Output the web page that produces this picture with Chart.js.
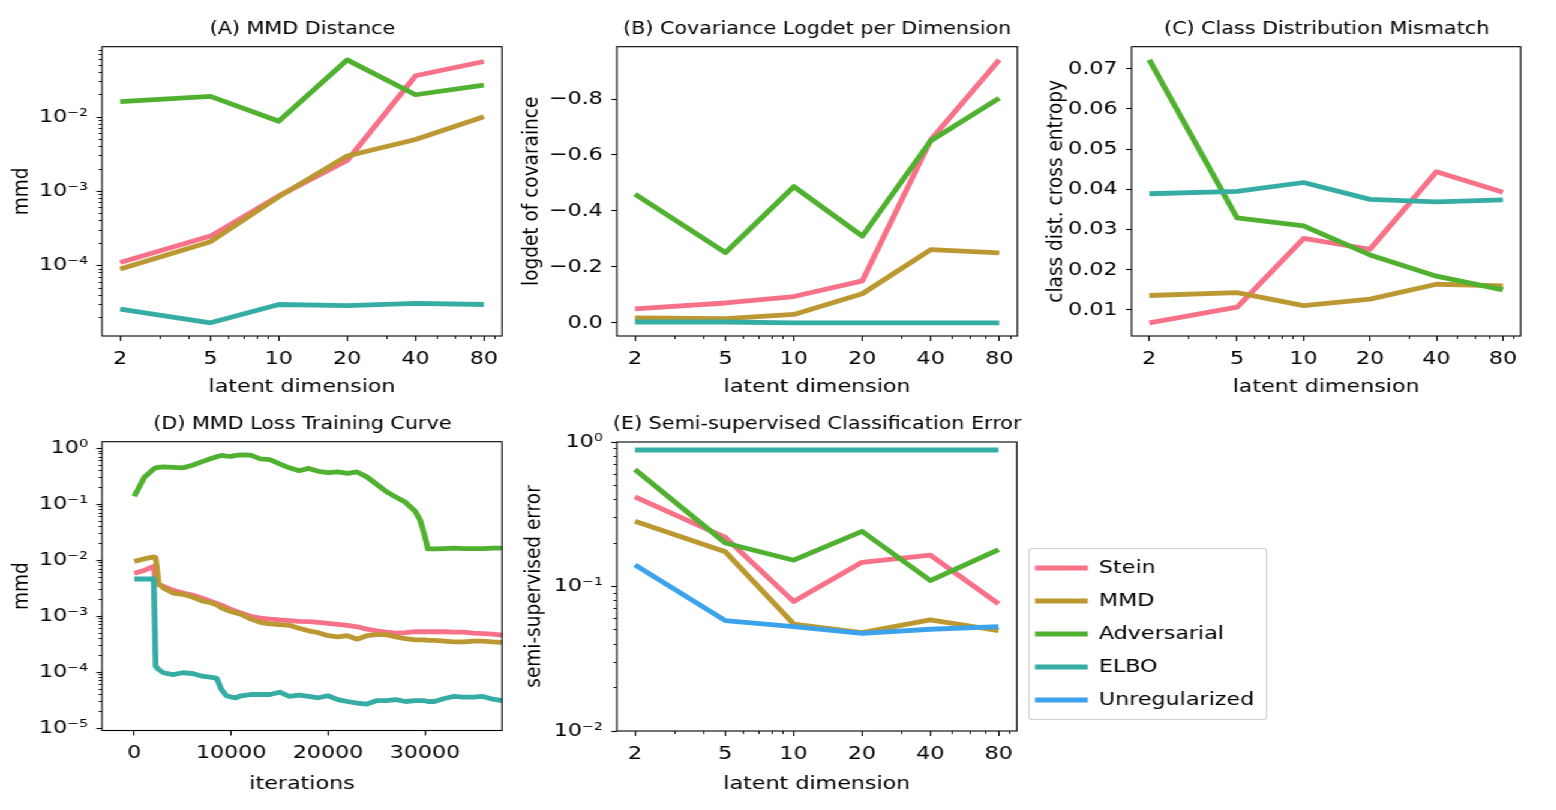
<!DOCTYPE html>
<html><head><meta charset="utf-8">
<script src="https://cdn.jsdelivr.net/npm/chart.js@4.4.1/dist/chart.umd.min.js"></script>
<style>
html,body{margin:0;padding:0;background:#fff;overflow:hidden;width:1556px;height:810px}
#fig{position:absolute;left:0;top:0;width:1297px;height:810px;transform:scaleX(1.2);transform-origin:0 0}
#fig canvas{position:absolute}
#legendBox{position:absolute;border:1px solid #cccccc;border-radius:3px;background:rgba(255,255,255,0.8);box-sizing:border-box}
</style></head><body><div id="fig"><div id="legendBox"></div></div>
<script>
// ---------------- data ----------------
const seriesNames = ['Stein', 'MMD', 'Adversarial', 'ELBO', 'Unregularized'];
const seriesColors = ['#f77189', '#bb9832', '#50b131', '#36ada4', '#3ba3ec'];

const latentDims = [2, 5, 10, 20, 40, 80];
const latentTicks = [2, 5, 10, 20, 40, 80];
const latentTickLabels = ['2', '5', '10', '20', '40', '80'];
const latentMinorTicks = [3, 4, 6, 7, 8, 9, 30, 50, 60, 70, 90];

// (A) MMD distance
const mmdStein = [1.1e-4, 2.5e-4, 8.7e-4, 2.6e-3, 0.036, 0.056];
const mmdMMD = [9.0e-5, 2.1e-4, 8.5e-4, 3.0e-3, 5.0e-3, 0.0101];
const mmdAdv = [0.0162, 0.019, 0.0088, 0.059, 0.020, 0.027];
const mmdElbo = [2.6e-5, 1.7e-5, 3.0e-5, 2.9e-5, 3.1e-5, 3.0e-5];
const mmdTicks = [1e-4, 1e-3, 1e-2];
const mmdTickLabels = ['10\u207B\u2074', '10\u207B\u00B3', '10\u207B\u00B2'];

// (B) covariance logdet per dimension
const covStein = [-0.05, -0.071, -0.094, -0.15, -0.654, -0.94];
const covMMD = [-0.018, -0.015, -0.03, -0.104, -0.262, -0.25];
const covAdv = [-0.46, -0.251, -0.487, -0.31, -0.651, -0.803];
const covElbo = [-0.003, -0.003, 0.0, 0.0, 0.0, 0.0];
const covTicks = [-0.8, -0.6, -0.4, -0.2, 0.0];
const covTickLabels = ['\u22120.8', '\u22120.6', '\u22120.4', '\u22120.2', '0.0'];

// (C) class distribution mismatch
const clsStein = [0.0068, 0.0107, 0.0278, 0.0251, 0.0444, 0.0393];
const clsMMD = [0.0136, 0.0143, 0.0111, 0.0127, 0.0164, 0.0160];
const clsAdv = [0.0722, 0.0329, 0.0309, 0.0237, 0.0184, 0.0150];
const clsElbo = [0.0389, 0.0395, 0.0417, 0.0375, 0.0369, 0.0374];
const clsTicks = [0.01, 0.02, 0.03, 0.04, 0.05, 0.06, 0.07];
const clsTickLabels = ['0.01', '0.02', '0.03', '0.04', '0.05', '0.06', '0.07'];

// (D) MMD loss training curve
const iterations = [0,1000,2000,2200,2500,3000,4000,5000,6000,7000,8000,8500,9000,9500,10000,10500,11000,12000,13000,14000,15000,16000,17000,18000,19000,20000,21000,22000,23000,24000,25000,26000,27000,28000,29000,29500,30000,30300,31000,32000,33000,34000,35000,36000,37000,38000];
const trainStein = [0.0059,0.0066,0.0078,0.0039,0.0037,0.00343,0.00291,0.00261,0.0024,0.0021,0.00182,0.0017,0.00158,0.00145,0.00132,0.00123,0.00115,0.001,0.00093,0.00089,0.00086,0.00084,0.00081,0.0008,0.00078,0.00075,0.00072,0.00069,0.00065,0.00059,0.00055,0.00052,0.0005,0.00051,0.00053,0.00053,0.00053,0.00053,0.00053,0.00053,0.00052,0.00052,0.0005,0.00049,0.00048,0.00046];
const trainMMD = [0.0096,0.0106,0.0115,0.0112,0.0039,0.0032,0.0026,0.00247,0.00221,0.00188,0.00173,0.0016,0.00141,0.0013,0.00121,0.00115,0.00109,0.0009,0.00078,0.00073,0.00071,0.00069,0.00061,0.00055,0.00051,0.00045,0.00043,0.00045,0.00039,0.00045,0.00047,0.00047,0.00043,0.0004,0.00038,0.00038,0.00038,0.00037,0.00037,0.00036,0.00035,0.00035,0.00036,0.00036,0.00035,0.000343];
const trainAdv = [0.139,0.30,0.43,0.45,0.46,0.47,0.46,0.45,0.50,0.58,0.67,0.71,0.75,0.73,0.72,0.75,0.77,0.76,0.65,0.63,0.53,0.45,0.40,0.44,0.39,0.37,0.38,0.36,0.38,0.31,0.23,0.17,0.135,0.109,0.075,0.053,0.027,0.016,0.016,0.0162,0.0165,0.0162,0.0162,0.0162,0.0165,0.0166];
const trainElbo = [0.00464,0.00464,0.00464,0.000128,0.000112,9.8e-5,9.1e-5,9.8e-5,9.5e-5,8.5e-5,8.1e-5,7.8e-5,4.9e-5,3.8e-5,3.6e-5,3.5e-5,3.8e-5,4.0e-5,4.0e-5,4.0e-5,4.4e-5,3.7e-5,3.9e-5,3.7e-5,3.5e-5,3.8e-5,3.25e-5,3.0e-5,2.8e-5,2.7e-5,3.1e-5,3.1e-5,3.25e-5,3.0e-5,3.1e-5,3.1e-5,3.1e-5,3.0e-5,3.0e-5,3.4e-5,3.7e-5,3.6e-5,3.6e-5,3.7e-5,3.3e-5,3.1e-5];
const iterTicks = [0, 10000, 20000, 30000];
const iterTickLabels = ['0', '10000', '20000', '30000'];
const trainTicks = [1e-5, 1e-4, 1e-3, 1e-2, 1e-1, 1];
const trainTickLabels = ['10\u207B\u2075', '10\u207B\u2074', '10\u207B\u00B3', '10\u207B\u00B2', '10\u207B\u00B9', '10\u2070'];

// (E) semi-supervised classification error
const errStein = [0.417, 0.219, 0.0787, 0.147, 0.165, 0.0758];
const errMMD = [0.283, 0.174, 0.055, 0.048, 0.0587, 0.0495];
const errAdv = [0.646, 0.200, 0.152, 0.241, 0.110, 0.180];
const errElbo = [0.88, 0.88, 0.88, 0.88, 0.88, 0.88];
const errUnreg = [0.141, 0.058, 0.0527, 0.0474, 0.0506, 0.0527];
const errTicks = [0.01, 0.1, 1];
const errTickLabels = ['10\u207B\u00B2', '10\u207B\u00B9', '10\u2070'];

// ---------------- rendering ----------------
const FONT = 'DejaVu Sans';
const FS = 18.5, TFS = 17.25, LW = 4.8;
const S = 1.2, YW = 85;
Chart.defaults.font.family = FONT;
Chart.defaults.color = '#000';
const fig = document.getElementById('fig');

function minorLog(min, max) {
  const out = [];
  for (let e = Math.floor(Math.log10(min)); e <= Math.ceil(Math.log10(max)); e++) {
    for (let m = 2; m <= 9; m++) {
      const v = m * Math.pow(10, e);
      if (v >= min && v <= max) out.push(v);
    }
  }
  return out;
}

const framePlugin = {
  id: 'frame',
  afterDraw(chart) {
    const {ctx, chartArea: a} = chart;
    ctx.save();
    ctx.strokeStyle = '#000';
    ctx.lineWidth = 1.1;
    ctx.strokeRect(a.left, a.top, a.right - a.left, a.bottom - a.top);
    ctx.restore();
  }
};

function majorAxis(axis, spec, size, titleText, titlePad) {
  const isX = axis === 'x';
  return {
    axis, type: spec.type, position: isX ? 'bottom' : 'left', weight: 1,
    min: spec.min, max: spec.max, reverse: !!spec.reverse,
    afterBuildTicks: s => { s.ticks = spec.ticks.map(v => ({value: v})); },
    afterFit: s => { if (isX) s.height = size; else s.width = size; },
    ticks: {autoSkip: false, maxRotation: 0, minRotation: 0, padding: isX ? 6.6 : 7.1, color: '#000',
      font: {family: FONT, size: FS}, callback: (v, i) => spec.labels[i]},
    grid: {display: true, drawOnChartArea: false, drawTicks: true, tickLength: isX ? 5 : 4.6, tickWidth: 1.1, tickColor: '#000'},
    border: {display: false},
    title: {display: true, text: titleText, color: '#000', font: {family: FONT, size: FS},
      padding: isX ? {top: 0, bottom: titlePad} : {top: titlePad, bottom: 0}}
  };
}
function minorAxis(axis, spec, tickLen) {
  const isX = axis === 'x';
  return {
    axis, type: spec.type, position: isX ? 'bottom' : 'left', weight: 0,
    min: spec.min, max: spec.max, reverse: !!spec.reverse,
    afterBuildTicks: s => { s.ticks = spec.minor.map(v => ({value: v})); },
    afterFit: s => { if (isX) s.height = 0; else s.width = 0; },
    ticks: {display: false, autoSkip: false},
    grid: {display: true, drawOnChartArea: false, drawTicks: true, tickLength: tickLen, tickWidth: 0.9, tickColor: '#000'},
    border: {display: false},
    title: {display: false}
  };
}

function makePanel(p) {
  const plotW = (p.r - p.l) / S, plotH = p.b - p.t;
  const W = Math.ceil(YW * 2 + plotW);
  const H = Math.round(p.TH + plotH + p.XH);
  const rightW = W - YW - plotW;
  const cv = document.createElement('canvas');
  cv.width = W; cv.height = H;
  cv.style.left = (p.l / S - YW) + 'px';
  cv.style.top = (p.t - p.TH) + 'px';
  cv.style.width = W + 'px'; cv.style.height = H + 'px';
  fig.appendChild(cv);
  const scales = {
    x: majorAxis('x', p.x, H - p.TH - plotH, p.xTitle, p.xTitlePad),
    y: majorAxis('y', p.y, YW, p.yTitle, p.yTitlePad),
    yr: {axis: 'y', type: 'linear', position: 'right', min: 0, max: 1, display: true,
      afterFit: s => { s.width = rightW; }, ticks: {display: false}, grid: {display: false}, border: {display: false}}
  };
  if (p.x.minor) scales.xm = minorAxis('x', p.x, 3);
  if (p.y.minor) scales.ym = minorAxis('y', p.y, 2.8);
  new Chart(cv, {
    type: 'line',
    data: {
      labels: p.labels,
      datasets: p.series.map(([vals, k], i) => ({
        label: seriesNames[k], data: vals, xAxisID: 'x', yAxisID: 'y',
        borderColor: seriesColors[k], backgroundColor: seriesColors[k], borderWidth: LW,
        pointRadius: 0, pointHoverRadius: 0, tension: 0, fill: false,
        borderJoinStyle: 'round', borderCapStyle: 'butt', order: 10 - i
      }))
    },
    options: {
      responsive: false, animation: false, devicePixelRatio: 1, events: [],
      layout: {padding: 0},
      plugins: {
        legend: {display: false}, tooltip: {enabled: false},
        title: {display: true, text: p.title, color: '#000', fullSize: true,
          font: {family: FONT, size: TFS, weight: 'normal'},
          padding: {top: p.titlePadTop, bottom: p.TH - p.titlePadTop - TFS * 1.2}}
      },
      scales
    },
    plugins: [framePlugin]
  });
}

const latentX = {type: 'logarithmic', min: 1.663, max: 96.2, ticks: latentTicks, labels: latentTickLabels, minor: latentMinorTicks};

makePanel({l: 101.7, r: 501.7, t: 46.7, b: 336, TH: 46.7, XH: 64, titlePadTop: 19.65,
  title: '(A) MMD Distance', xTitle: 'latent dimension', xTitlePad: 1.9, yTitle: 'mmd', yTitlePad: 7.2,
  labels: latentDims, series: [[mmdStein, 0], [mmdMMD, 1], [mmdAdv, 2], [mmdElbo, 3]],
  x: latentX,
  y: {type: 'logarithmic', min: 1.13e-5, max: 0.0887, ticks: mmdTicks, labels: mmdTickLabels, minor: minorLog(1.13e-5, 0.0887)}});

makePanel({l: 616.7, r: 1017.3, t: 46.7, b: 336, TH: 46.7, XH: 64, titlePadTop: 19.65,
  title: '(B) Covariance Logdet per Dimension', xTitle: 'latent dimension', xTitlePad: 1.9, yTitle: 'logdet of covaraince', yTitlePad: 3.1,
  labels: latentDims, series: [[covStein, 0], [covMMD, 1], [covAdv, 2], [covElbo, 3]],
  x: latentX,
  y: {type: 'linear', min: -0.987, max: 0.047, reverse: true, ticks: covTicks, labels: covTickLabels}});

makePanel({l: 1131, r: 1520, t: 46.7, b: 336, TH: 46.7, XH: 64, titlePadTop: 19.65,
  title: '(C) Class Distribution Mismatch', xTitle: 'latent dimension', xTitlePad: 1.9, yTitle: 'class dist. cross entropy', yTitlePad: 11.4,
  labels: latentDims, series: [[clsStein, 0], [clsMMD, 1], [clsAdv, 2], [clsElbo, 3]],
  x: latentX,
  y: {type: 'linear', min: 0.00353, max: 0.07547, ticks: clsTicks, labels: clsTickLabels}});

makePanel({l: 101.7, r: 501.7, t: 441.7, b: 730.5, TH: 46.7, XH: 66, titlePadTop: 19.15,
  title: '(D) MMD Loss Training Curve', xTitle: 'iterations', xTitlePad: 1.9, yTitle: 'mmd', yTitlePad: 7.2,
  labels: iterations, series: [[trainStein, 0], [trainMMD, 1], [trainAdv, 2], [trainElbo, 3]],
  x: {type: 'linear', min: -3340, max: 37960, ticks: iterTicks, labels: iterTickLabels},
  y: {type: 'logarithmic', min: 9.1e-6, max: 1.32, ticks: trainTicks, labels: trainTickLabels, minor: minorLog(9.1e-6, 1.32)}});

makePanel({l: 617, r: 1017, t: 442, b: 731, TH: 47, XH: 66, titlePadTop: 19.15,
  title: '(E) Semi-supervised Classification Error', xTitle: 'latent dimension', xTitlePad: 1.9, yTitle: 'semi-supervised error', yTitlePad: 4.7,
  labels: latentDims, series: [[errStein, 0], [errMMD, 1], [errAdv, 2], [errElbo, 3], [errUnreg, 4]],
  x: latentX,
  y: {type: 'logarithmic', min: 0.01, max: 1, ticks: errTicks, labels: errTickLabels, minor: minorLog(0.01, 1)}});

// ---------------- legend ----------------
const lb = document.getElementById('legendBox');
lb.style.left = (1028 / S) + 'px'; lb.style.top = '548px';
lb.style.width = ((1267 - 1028) / S) + 'px'; lb.style.height = '172px';

const LEG_PAD = 14.5;
const lc = document.createElement('canvas');
lc.width = 440; lc.height = 200;
lc.style.left = (1035 / S - LEG_PAD) + 'px'; lc.style.top = '534px';
lc.style.width = '440px'; lc.style.height = '200px';
fig.appendChild(lc);
new Chart(lc, {
  type: 'line',
  data: {labels: [], datasets: seriesNames.map((n, k) => ({label: n, data: [], borderColor: seriesColors[k], backgroundColor: seriesColors[k], borderWidth: LW, borderCapStyle: 'butt'}))},
  options: {
    responsive: false, animation: false, devicePixelRatio: 1, events: [],
    layout: {padding: 0},
    scales: {x: {display: false}, y: {display: false}},
    plugins: {
      tooltip: {enabled: false}, title: {display: false},
      legend: {display: true, position: 'left', align: 'center', maxWidth: 400,
        labels: {usePointStyle: true, pointStyle: 'line', pointStyleWidth: 44, boxHeight: FS, padding: LEG_PAD, color: '#000', font: {family: FONT, size: FS}}}
    }
  }
});
</script></body></html>
